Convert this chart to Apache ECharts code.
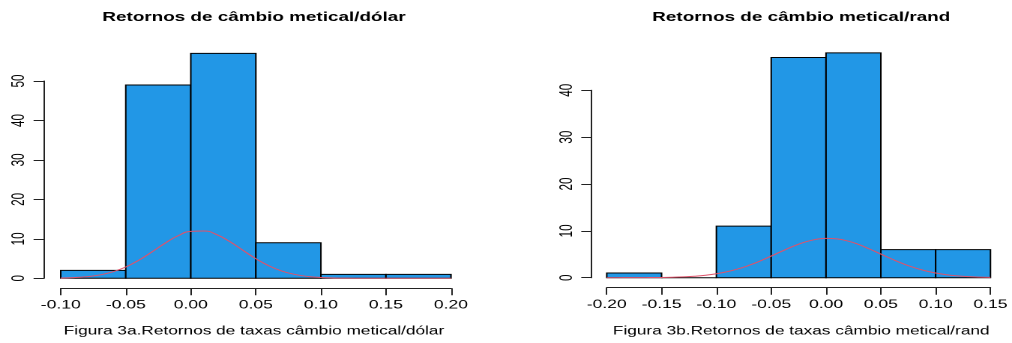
<!DOCTYPE html>
<html><head><meta charset="utf-8">
<script src="https://cdn.jsdelivr.net/npm/echarts@6/dist/echarts.min.js"></script>
<style>
html,body{margin:0;padding:0;background:#fff;overflow:hidden}
#wrap{width:1012px;height:343px;overflow:hidden}
#c{width:675px;height:343px;transform:scaleX(1.499259);transform-origin:0 0}
</style>
</head><body><div id="wrap"><div id="c"></div></div>
<script>
// Figura 3a: metical/dólar
const usdTitle = 'Retornos de câmbio metical/dólar';
const usdCaption = 'Figura 3a.Retornos de taxas câmbio metical/dólar';
const usdBreaks = [-0.10, -0.05, 0.00, 0.05, 0.10, 0.15, 0.20];
const usdCounts = [2, 49, 57, 9, 1, 1];
const usdCurveX = [-0.10,-0.09,-0.08,-0.07,-0.06,-0.05,-0.04,-0.03,-0.02,-0.01,0.00,0.01,0.02,0.03,0.04,0.05,0.06,0.07,0.08,0.09,0.10,0.11,0.12,0.13,0.14,0.15,0.16,0.17,0.18,0.19,0.20];
const usdCurveY = [0.07,0.18,0.40,0.85,1.64,2.86,4.58,6.67,8.86,10.75,11.89,12.00,11.05,9.28,7.11,4.97,3.17,1.84,0.98,0.47,0.21,0.08,0.03,0.01,0,0,0,0,0,0,0];
const usdYTicks = {min: 0, max: 50, interval: 10};

// Figura 3b: metical/rand
const zarTitle = 'Retornos de câmbio metical/rand';
const zarCaption = 'Figura 3b.Retornos de taxas câmbio metical/rand';
const zarBreaks = [-0.20, -0.15, -0.10, -0.05, 0.00, 0.05, 0.10, 0.15];
const zarCounts = [1, 0, 11, 47, 48, 6, 6];
const zarCurveX = [-0.20,-0.19,-0.18,-0.17,-0.16,-0.15,-0.14,-0.13,-0.12,-0.11,-0.10,-0.09,-0.08,-0.07,-0.06,-0.05,-0.04,-0.03,-0.02,-0.01,0.00,0.01,0.02,0.03,0.04,0.05,0.06,0.07,0.08,0.09,0.10,0.11,0.12,0.13,0.14,0.15];
const zarCurveY = [0.00,0.00,0.01,0.01,0.03,0.05,0.10,0.18,0.31,0.52,0.84,1.29,1.89,2.66,3.58,4.61,5.68,6.69,7.55,8.14,8.39,8.28,7.82,7.06,6.10,5.04,3.99,3.01,2.18,1.51,1.00,0.63,0.38,0.22,0.12,0.07];
const zarYTicks = {min: 0, max: 40, interval: 10};

const FONT = '"Liberation Sans", Arial, Helvetica, sans-serif';
const BAR = '#2297E6', CURVE = '#DF536B', AXIS = '#222';

function histData(breaks, counts) {
  return counts.map((c, i) => [breaks[i], breaks[i + 1], c]);
}
function curveData(xs, ys) { return xs.map((x, i) => [x, ys[i]]); }
function renderHist(params, api) {
  const p0 = api.coord([api.value(0), 0]);
  const p1 = api.coord([api.value(1), api.value(2)]);
  return {
    type: 'rect',
    shape: {x: p0[0], y: p1[1], width: p1[0] - p0[0], height: p0[1] - p1[1]},
    style: {fill: BAR, stroke: '#000', lineWidth: 1}
  };
}
function fmt(v) { return Math.abs(v) < 1e-9 ? '0.00' : v.toFixed(2); }

function xAxisFor(idx, breaks) {
  return {
    type: 'value', gridIndex: idx,
    min: breaks[0], max: breaks[breaks.length - 1], interval: 0.05,
    offset: 10,
    axisLine: {show: true, onZero: false, lineStyle: {color: AXIS, width: 1}},
    axisTick: {show: true, length: 7, lineStyle: {color: AXIS}},
    splitLine: {show: false},
    axisLabel: {formatter: fmt, fontFamily: FONT, fontSize: 11.7, color: '#000', margin: 11, showMinLabel: true, showMaxLabel: true}
  };
}
function yAxisFor(idx, t, off) {
  return {
    type: 'value', gridIndex: idx,
    min: t.min, max: t.max, interval: t.interval,
    offset: off,
    axisLine: {show: true, onZero: false, lineStyle: {color: AXIS, width: 1}},
    axisTick: {show: true, length: 7, lineStyle: {color: AXIS}},
    splitLine: {show: false},
    axisLabel: {rotate: 90, fontFamily: FONT, fontSize: 11.7, color: '#000', margin: 10.5}
  };
}
function titleAt(text, x, y, size, bold) {
  return {
    text: text, left: x, top: y, textAlign: 'center', padding: 0,
    textStyle: {fontFamily: FONT, fontSize: size, fontWeight: bold ? 'bold' : 'normal', color: '#000', lineHeight: size + 1}
  };
}

const chart = echarts.init(document.getElementById('c'), null, {renderer: 'canvas', devicePixelRatio: 2});
chart.setOption({
  animation: false,
  backgroundColor: '#fff',
  title: [
    titleAt(usdTitle, 169.4, 10.7, 12.6, true),
    titleAt(zarTitle, 534.4, 10.7, 12.6, true),
    titleAt(usdCaption, 169.4, 325.2, 11.5, false),
    titleAt(zarCaption, 534.4, 325.2, 11.5, false)
  ],
  grid: [
    {left: 40.5, top: 81, width: 260.3, height: 197.3},
    {left: 404.7, top: 90.3, width: 260.1, height: 187.4}
  ],
  xAxis: [xAxisFor(0, usdBreaks), xAxisFor(1, zarBreaks)],
  yAxis: [yAxisFor(0, usdYTicks, 11.1), yAxisFor(1, zarYTicks, 10)],
  series: [
    {type: 'custom', xAxisIndex: 0, yAxisIndex: 0, clip: false, renderItem: renderHist,
     encode: {x: [0, 1], y: 2}, data: histData(usdBreaks, usdCounts), z: 2},
    {type: 'line', xAxisIndex: 0, yAxisIndex: 0, symbol: 'none', smooth: true,
     lineStyle: {color: CURVE, width: 1}, data: curveData(usdCurveX, usdCurveY), z: 3},
    {type: 'custom', xAxisIndex: 1, yAxisIndex: 1, clip: false, renderItem: renderHist,
     encode: {x: [0, 1], y: 2}, data: histData(zarBreaks, zarCounts), z: 2},
    {type: 'line', xAxisIndex: 1, yAxisIndex: 1, symbol: 'none', smooth: true,
     lineStyle: {color: CURVE, width: 1}, data: curveData(zarCurveX, zarCurveY), z: 3}
  ]
});
</script>
</body></html>
